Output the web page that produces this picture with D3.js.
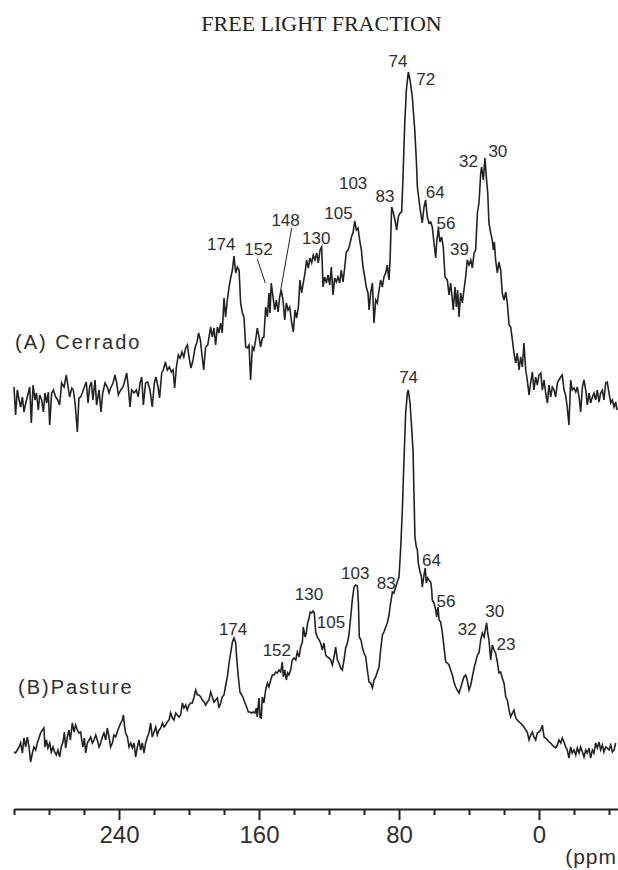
<!DOCTYPE html>
<html>
<head>
<meta charset="utf-8">
<script src="https://cdnjs.cloudflare.com/ajax/libs/d3/7.8.5/d3.min.js"></script>
<style>
	body { margin: 0; background: #fff; }
	svg { display: block; }
</style>
</head>
<body>
<div id="chart"></div>
<script>
// 13C CP/MAS NMR spectra, free light fraction
// each point: [chemical shift (ppm), intensity (a.u.)]
var spectrumA = [
[300.0,13],[299.1,-15],[298.1,10],[297.1,0],[296.2,-7],[295.2,3],[294.3,-12],[293.3,-3],[292.4,3],[291.0,13],
[290.1,-23],[289.1,15],[288.0,0],[287.2,7],[286.1,-10],[285.3,5],[284.2,0],[283.2,-12],[282.3,7],[281.3,-3],
[280.4,8],[279.6,-25],[278.5,7],[277.5,10],[276.2,3],[275.0,0],[273.9,-5],[272.8,17],[271.4,13],[270.1,25],
[269.1,13],[268.2,3],[267.0,12],[266.1,10],[265.1,-3],[263.8,-32],[262.9,2],[261.9,3],[261.0,7],[259.8,13],
[258.7,18],[257.7,-3],[256.8,13],[255.8,18],[254.9,0],[253.7,20],[252.8,-5],[251.4,10],[250.3,-12],[249.3,7],
[248.0,17],[246.7,13],[245.7,7],[244.8,12],[243.4,17],[242.3,25],[241.3,17],[240.4,5],[239.0,10],[237.7,13],
[236.6,20],[235.6,27],[234.7,13],[233.7,-7],[232.8,10],[231.4,7],[230.1,10],[229.0,3],[228.0,17],[227.0,23],
[226.1,-5],[224.8,17],[223.6,18],[222.3,10],[221.0,-7],[219.8,17],[218.9,23],[217.7,13],[216.8,2],[215.6,27],
[214.7,30],[213.5,38],[212.4,30],[211.2,33],[210.1,28],[209.1,30],[208.2,12],[207.2,33],[206.1,45],[205.1,42],
[204.0,48],[203.0,43],[201.9,52],[200.9,55],[200.0,43],[198.9,32],[197.7,40],[196.6,52],[195.4,58],[194.5,67],
[193.5,60],[192.6,45],[191.6,30],[190.5,53],[189.3,55],[187.6,73],[186.7,63],[185.7,72],[184.8,55],[183.8,73],
[182.9,67],[181.9,77],[181.0,67],[180.0,102],[179.1,83],[178.1,100],[177.1,113],[176.2,122],[175.2,130],[174.3,144],
[173.3,127],[172.4,133],[171.4,130],[170.5,97],[169.5,87],[168.6,83],[167.6,53],[166.7,52],[165.7,55],[164.8,20],
[163.8,53],[162.9,50],[161.9,60],[161.0,72],[160.0,63],[159.1,53],[158.1,62],[157.2,63],[156.2,93],[155.2,83],
[154.3,107],[153.7,87],[153.0,117],[152.0,103],[151.0,90],[150.1,100],[149.1,88],[148.2,103],[147.3,110],[146.3,100],
[145.3,80],[144.4,97],[143.4,90],[142.5,93],[141.3,77],[140.4,68],[139.4,90],[138.5,82],[137.5,93],[136.6,120],
[135.6,107],[134.7,117],[133.7,127],[132.8,140],[131.8,132],[130.9,142],[129.9,137],[129.0,145],[128.0,140],[127.0,147],
[126.1,137],[125.1,150],[124.2,153],[123.4,113],[122.5,123],[121.5,117],[120.6,125],[119.6,115],[118.7,133],[117.7,105],
[116.8,122],[115.8,118],[114.9,123],[113.9,117],[113.0,130],[112.0,118],[111.0,133],[110.1,148],[109.1,150],[108.2,155],
[107.2,163],[106.3,167],[105.3,179],[104.4,170],[103.4,172],[102.5,160],[101.5,150],[100.6,133],[99.6,123],[98.7,113],
[97.7,107],[97.1,90],[96.2,107],[95.2,117],[94.3,77],[93.3,100],[92.4,97],[91.4,110],[90.5,120],[89.5,113],
[88.6,123],[87.6,127],[86.7,135],[85.7,120],[85.1,140],[84.2,193],[83.2,187],[82.3,180],[81.3,170],[80.4,183],
[79.4,187],[78.5,188],[77.7,223],[76.8,273],[75.8,310],[74.7,328],[73.7,320],[72.4,303],[71.0,270],[70.1,240],
[69.5,213],[68.6,200],[67.6,187],[66.7,177],[65.7,193],[64.8,200],[63.8,183],[62.9,177],[61.9,178],[61.0,173],
[60.0,157],[59.0,142],[58.5,157],[57.5,172],[56.6,158],[55.6,163],[54.7,153],[53.7,123],[52.4,120],[51.4,105],
[50.5,117],[49.5,100],[49.0,90],[48.0,113],[47.2,93],[46.5,110],[45.7,83],[44.8,107],[43.8,97],[42.9,110],
[41.9,123],[41.0,140],[40.0,135],[39.0,140],[38.1,132],[37.1,147],[36.2,150],[35.2,187],[34.3,197],[33.3,227],
[32.8,233],[31.8,220],[30.9,242],[30.1,223],[29.3,207],[28.6,177],[27.6,167],[26.7,160],[26.1,150],[25.5,158],
[24.8,140],[23.8,127],[22.9,138],[21.9,130],[21.0,107],[20.0,100],[19.0,108],[18.1,97],[17.1,75],[16.2,73],
[15.2,60],[14.3,47],[13.3,37],[12.4,47],[11.4,30],[10.5,43],[9.5,33],[8.6,57],[7.6,30],[6.7,20],
[5.7,5],[4.8,17],[3.8,28],[2.9,10],[1.9,23],[1.0,15],[0.0,25],[-1.0,27],[-1.9,10],[-2.9,20],
[-3.8,7],[-4.8,-3],[-5.7,15],[-6.7,3],[-7.6,13],[-8.6,10],[-9.5,3],[-10.5,17],[-11.4,20],[-12.4,23],
[-13.3,25],[-14.3,10],[-15.2,5],[-16.2,-8],[-17.1,-25],[-18.1,20],[-19.0,10],[-20.0,12],[-21.0,8],[-21.9,13],
[-22.9,3],[-23.8,-12],[-24.8,13],[-25.7,20],[-26.7,10],[-27.6,-5],[-28.6,7],[-29.5,-3],[-30.5,3],[-31.4,7],
[-32.4,0],[-33.3,10],[-34.3,-2],[-35.2,7],[-36.2,10],[-37.1,0],[-38.1,17],[-39.0,18],[-40.0,7],[-41.0,-3],
[-41.9,0],[-42.9,-7],[-43.8,-2],[-44.6,-10]
];

var spectrumB = [
[300.0,8],[299.1,7],[298.1,10],[297.1,13],[296.2,17],[295.2,7],[294.3,22],[293.3,13],[292.4,23],[291.4,13],
[290.5,-2],[289.5,7],[288.6,13],[287.6,10],[286.7,17],[285.7,22],[284.8,27],[283.8,30],[282.9,32],[282.3,13],
[281.5,20],[280.6,12],[279.6,17],[278.7,8],[277.7,13],[276.8,8],[275.8,5],[274.9,10],[273.9,3],[273.0,13],
[272.0,18],[271.2,28],[270.5,12],[269.5,23],[268.6,30],[267.8,20],[266.7,37],[265.7,28],[264.8,35],[263.8,30],
[262.9,27],[261.9,28],[261.3,20],[260.6,13],[259.8,22],[259.0,7],[258.1,17],[257.1,20],[256.2,23],[255.2,17],
[254.3,20],[253.3,25],[252.4,20],[251.4,13],[250.5,17],[249.5,23],[248.6,27],[247.6,20],[246.7,32],[245.7,23],
[244.8,13],[243.8,17],[242.9,25],[241.9,23],[241.0,28],[240.0,33],[239.0,37],[238.1,40],[237.5,45],[236.8,33],
[236.2,27],[235.2,23],[234.3,13],[233.3,17],[232.4,12],[231.4,17],[230.5,3],[229.5,13],[228.6,20],[227.6,10],
[226.7,17],[225.7,7],[224.8,17],[223.8,23],[222.9,27],[221.9,37],[221.0,23],[220.0,28],[219.0,33],[218.1,25],
[217.1,30],[216.2,32],[215.2,37],[214.3,33],[213.3,35],[212.4,38],[211.4,40],[210.5,47],[209.5,42],[208.6,40],
[207.6,47],[206.7,45],[205.7,43],[204.8,45],[203.8,57],[202.9,52],[201.9,55],[201.0,50],[200.0,55],[199.0,57],
[198.1,57],[197.1,63],[196.2,70],[195.2,65],[194.3,65],[193.3,63],[192.4,60],[191.4,58],[190.5,55],[189.5,58],
[188.6,60],[187.6,68],[186.7,63],[185.7,58],[184.8,60],[183.8,62],[182.9,52],[181.9,57],[181.0,63],[180.0,65],
[179.0,75],[178.1,83],[177.1,97],[176.2,107],[175.2,118],[174.3,122],[173.3,117],[172.8,103],[171.8,83],[170.9,68],
[169.9,65],[169.0,62],[168.0,57],[167.1,53],[166.1,48],[165.1,48],[164.2,47],[163.2,48],[162.3,47],[161.5,52],
[161.0,43],[160.0,62],[159.4,43],[158.7,42],[158.1,63],[157.2,57],[156.2,70],[155.2,77],[154.3,73],[153.3,80],
[152.4,85],[151.4,85],[150.5,88],[149.5,87],[148.6,90],[147.6,88],[146.7,98],[146.1,83],[145.2,90],[144.4,80],
[143.6,87],[142.9,85],[141.9,90],[141.0,100],[140.0,102],[139.0,100],[138.1,108],[137.1,103],[136.2,113],[135.2,118],
[134.7,133],[133.7,123],[133.0,127],[132.2,137],[131.4,142],[130.7,148],[129.9,147],[129.1,149],[128.4,147],[127.6,128],
[126.7,123],[125.7,120],[124.8,117],[123.8,110],[122.9,117],[121.9,105],[121.0,103],[120.0,102],[119.0,100],[118.1,95],
[117.1,103],[116.2,113],[115.2,100],[114.3,97],[113.3,92],[112.4,90],[111.4,100],[110.5,112],[109.5,117],[108.6,125],
[107.6,143],[106.7,160],[105.7,173],[104.8,175],[103.8,174],[103.2,157],[102.7,123],[101.7,120],[101.0,113],[100.0,107],
[99.0,103],[98.1,90],[97.1,78],[96.2,77],[95.2,72],[94.3,80],[93.3,83],[92.4,88],[91.4,93],[90.5,110],
[89.5,125],[88.6,128],[87.6,133],[86.7,137],[85.7,145],[84.8,157],[83.8,168],[82.9,167],[81.9,173],[81.0,178],
[80.0,183],[79.0,213],[78.1,250],[77.1,303],[76.2,347],[75.2,367],[74.7,370],[73.7,357],[72.8,333],[72.0,310],
[71.4,263],[70.9,223],[70.1,213],[69.5,210],[69.0,197],[68.2,190],[67.2,183],[66.7,173],[66.1,180],[65.5,187],
[65.0,192],[64.4,177],[63.6,182],[62.9,180],[61.9,178],[61.3,170],[61.0,160],[60.0,157],[59.0,150],[58.5,143],
[57.7,153],[57.1,140],[56.2,138],[55.2,127],[54.3,113],[53.3,98],[52.4,97],[51.4,95],[50.5,90],[49.5,85],
[48.6,78],[47.6,73],[46.7,70],[45.7,67],[44.8,72],[43.8,78],[42.9,83],[41.9,85],[41.0,80],[40.0,70],
[39.0,75],[38.1,83],[37.1,92],[36.2,98],[35.2,105],[34.3,107],[33.3,120],[32.4,127],[31.4,123],[30.5,132],
[29.9,137],[29.3,127],[28.6,120],[27.6,100],[26.7,115],[25.7,110],[24.8,107],[23.8,98],[22.9,87],[21.9,88],
[21.0,82],[20.0,77],[19.0,63],[18.1,60],[17.1,50],[16.2,43],[15.2,47],[14.3,50],[13.3,42],[12.4,40],
[11.4,38],[10.5,37],[9.5,35],[8.6,33],[7.6,30],[6.7,28],[5.7,20],[4.8,25],[3.8,28],[2.9,23],
[1.9,20],[1.0,27],[0.0,28],[-1.0,30],[-1.9,35],[-2.9,23],[-3.8,22],[-4.8,20],[-5.7,18],[-6.7,17],
[-7.6,15],[-8.6,13],[-9.5,12],[-10.5,15],[-11.4,20],[-12.4,17],[-13.3,22],[-14.3,18],[-15.2,13],[-16.2,10],
[-17.1,2],[-18.1,13],[-19.0,7],[-20.0,10],[-21.0,5],[-21.9,12],[-22.9,7],[-23.8,13],[-24.8,8],[-25.7,3],
[-26.7,10],[-27.6,7],[-28.6,12],[-29.5,2],[-30.5,10],[-31.4,7],[-32.4,17],[-33.3,12],[-34.3,18],[-35.2,10],
[-36.2,15],[-37.1,8],[-38.1,13],[-39.0,12],[-40.0,10],[-41.0,15],[-41.9,8],[-42.9,10],[-43.8,17]
];

// peak assignments: [label, ppm of label centre, intensity of label baseline]
var peaksA = [
["174",181.6,150],["152",160.3,145],["148",144.8,174],["130",127.3,156],["105",114.6,181],
["103",106.2,211],["83",88.0,198],["74",80.6,333],["72",64.7,315],["64",59.3,202],
["56",53.1,171],["39",45.4,145],["32",40.3,233],["30",23.5,243]
];
var peaksB = [
["174",174.8,125],["152",149.8,104],["130",131.4,160],["105",118.9,132],["103",105.0,181],
["83",87.3,171],["74",74.5,377],["64",61.4,194],["56",53.1,153],["32",41.0,125],
["30",25.3,143],["23",18.9,110]
];
// leader lines on spectrum A: [ppm1, int1, ppm2, int2]
var leadersA = [[161.0,141,156.4,117],[141.3,172,147.6,110]];

var majorTicks = [240, 160, 80, 0];
var minorTicks = [300, 280, 260, 220, 200, 180, 140, 120, 100, 60, 40, 20, -20, -40];

var width = 618,
	height = 870,
	axisY = 809,
	lineColor = "#222",
	textColor = "#2e2e2e";

var svg = d3.select("#chart").append("svg")
	.attr("width", width)
	.attr("height", height);

svg.append("rect").attr("width", width).attr("height", height).attr("fill", "#fff");

// ppm runs right to left
var x = d3.scaleLinear().domain([300, -45.14]).range([14, 618]);
var yA = d3.scaleLinear().domain([0, 330]).range([400, 70]);
var yB = d3.scaleLinear().domain([0, 370]).range([760, 390]);

svg.append("text")
	.attr("x", 321.5)
	.attr("y", 31)
	.attr("text-anchor", "middle")
	.style("font-family", "'Liberation Serif', 'Times New Roman', serif")
	.style("font-size", "22px")
	.attr("fill", "#222")
	.text("FREE LIGHT FRACTION");

function drawSpectrum(data, y) {
	var line = d3.line()
		.x(function(d) { return x(d[0]); })
		.y(function(d) { return y(d[1]); });
	svg.append("path")
		.datum(data)
		.attr("d", line)
		.attr("fill", "none")
		.attr("stroke", lineColor)
		.attr("stroke-width", 1.6)
		.attr("stroke-linejoin", "miter");
}

function drawPeaks(peaks, y) {
	svg.append("g").selectAll("text")
		.data(peaks)
		.enter()
		.append("text")
		.attr("x", function(d) { return x(d[1]); })
		.attr("y", function(d) { return y(d[2]); })
		.attr("text-anchor", "middle")
		.style("font-family", "'Liberation Sans', Arial, sans-serif")
		.style("font-size", "17px")
		.attr("fill", textColor)
		.text(function(d) { return d[0]; });
}

drawSpectrum(spectrumA, yA);
drawSpectrum(spectrumB, yB);
drawPeaks(peaksA, yA);
drawPeaks(peaksB, yB);

svg.append("g").selectAll("line")
	.data(leadersA)
	.enter()
	.append("line")
	.attr("x1", function(d) { return x(d[0]); })
	.attr("y1", function(d) { return yA(d[1]); })
	.attr("x2", function(d) { return x(d[2]); })
	.attr("y2", function(d) { return yA(d[3]); })
	.attr("stroke", lineColor)
	.attr("stroke-width", 1);

svg.append("text")
	.attr("x", 15)
	.attr("y", 349)
	.style("font-family", "'Liberation Sans', Arial, sans-serif")
	.style("font-size", "20px")
	.style("letter-spacing", "2px")
	.attr("fill", textColor)
	.text("(A) Cerrado");

svg.append("text")
	.attr("x", 18)
	.attr("y", 694)
	.style("font-family", "'Liberation Sans', Arial, sans-serif")
	.style("font-size", "20px")
	.style("letter-spacing", "2px")
	.attr("fill", textColor)
	.text("(B)Pasture");

// axis: major ticks labelled, minor ticks in between
var axisMajor = d3.axisBottom(x)
	.tickValues(majorTicks)
	.tickSize(11)
	.tickSizeOuter(0)
	.tickFormat(d3.format("d"));

var gAxis = svg.append("g")
	.attr("transform", "translate(0," + axisY + ")")
	.call(axisMajor);

gAxis.select(".domain").attr("stroke", lineColor).attr("stroke-width", 2);
gAxis.selectAll(".tick line").attr("stroke", lineColor).attr("stroke-width", 2);
gAxis.selectAll(".tick text")
	.attr("y", 34)
	.attr("dy", 0)
	.style("font-family", "'Liberation Sans', Arial, sans-serif")
	.style("font-size", "24px")
	.attr("fill", textColor);

var axisMinor = d3.axisBottom(x)
	.tickValues(minorTicks)
	.tickSize(6)
	.tickSizeOuter(0)
	.tickFormat("");

var gMinor = svg.append("g")
	.attr("transform", "translate(0," + axisY + ")")
	.call(axisMinor);
gMinor.select(".domain").remove();
gMinor.selectAll(".tick line").attr("stroke", lineColor).attr("stroke-width", 2);

// unit label, cut at the right edge in the original figure
svg.append("text")
	.attr("x", 617)
	.attr("y", 864)
	.attr("text-anchor", "end")
	.style("font-family", "'Liberation Sans', Arial, sans-serif")
	.style("font-size", "21px")
	.style("letter-spacing", "1px")
	.attr("fill", textColor)
	.text("(ppm");
</script>
</body>
</html>
